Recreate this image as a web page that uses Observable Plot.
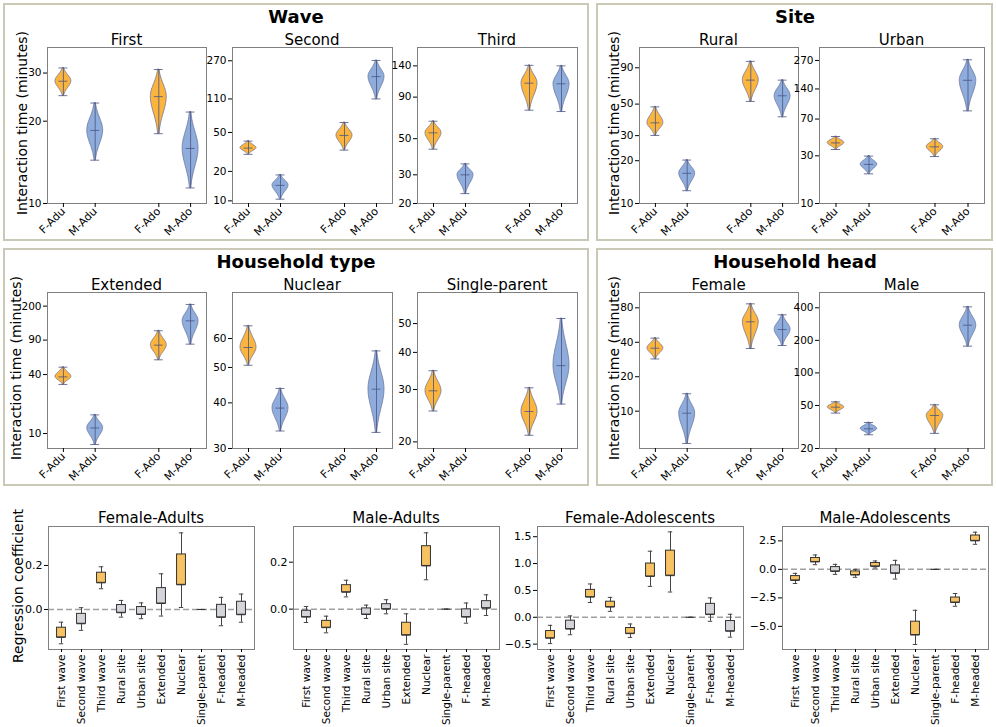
<!DOCTYPE html>
<html><head><meta charset="utf-8">
<script src="https://cdn.jsdelivr.net/npm/d3@7"></script>
<script src="https://cdn.jsdelivr.net/npm/@observablehq/plot@0.6"></script>
<style>
body{margin:0;background:#fff;font-family:"DejaVu Sans",sans-serif;}
#root{position:relative;width:996px;height:727px;overflow:hidden;background:#fff;}
.box{position:absolute;border:2px solid #c9c9b6;box-sizing:border-box;}
.t{position:absolute;transform:translate(-50%,-50%);white-space:nowrap;color:#000;line-height:1;}
.grp{font-weight:bold;font-size:18px;}
.pt{font-size:15px;}
.yl{font-size:14px;transform:translate(-50%,-50%) rotate(-90deg);}
svg.pl{position:absolute;overflow:visible;}
</style></head><body><div id="root"></div><script>
// ---------- violin data (interaction time, minutes) ----------
const groups = ["F-Adu", "M-Adu", "F-Ado", "M-Ado"];
const groupPos = [1, 2, 4, 5];
const groupFemale = [true, false, true, false];
const violinPanels = ["First", "Second", "Third", "Rural", "Urban", "Extended", "Nuclear", "Single-parent", "Female", "Male"];
const violinMin = [
  [24.8, 14.4, 18.0, 11.4], [29.9, 10.4, 33.0, 110], [43.1, 23.0, 74.8, 73.4],
  [30.1, 12.3, 52.2, 40.7], [34.7, 19.8, 29.5, 84.5],
  [31.7, 7.72, 56.6, 81.8], [50.7, 33.5, null, 33.2], [25.4, null, 21.05, 26.8],
  [28.6, 5.22, 35.3, 37.5], [42.5, 26.8, 27.6, 176.7]
];
const violinMedian = [
  [28.0, 18.5, 24.6, 15.9], [34.6, 14.4, 46.6, 186], [54.3, 30.0, 109.6, 108.6],
  [36.9, 16.3, 73.7, 57.2], [40.4, 24.6, 36.9, 171],
  [37.9, 11.4, 79.9, 141.6], [56.7, 38.7, null, 43.6], [29.7, null, 25.3, 36.1],
  [35.5, 9.6, 60.4, 51.7], [48.2, 30.4, 40.4, 276]
];
const violinMax = [
  [31.3, 23.3, 30.9, 21.6], [40.8, 18.4, 63.2, 272], [64.0, 35.0, 141, 140],
  [47.8, 20.2, 99.8, 73.7], [46.8, 29.8, 44.4, 274],
  [47.6, 15.5, 112, 208], [65.0, 43.8, null, 55.5], [34.7, null, 30.4, 52.0],
  [43.5, 14.2, 86.7, 69.5], [54.0, 34.8, 50.7, 408]
];
const violinTicks = [
  [10, 20, 30], [10, 20, 50, 110, 270], [20, 30, 50, 90, 140],
  [10, 20, 30, 50, 90], [10, 30, 70, 140, 270],
  [10, 40, 90, 200], [30, 40, 50, 60], [20, 30, 40, 50],
  [10, 20, 40, 80], [20, 50, 100, 200, 400]
];
const violinYDomain = [
  [10, 37.2], [9.4, 369], [20, 181.5], [10, 125], [10, 364],
  [7.03, 275.6], [30, 80.2], [19, 63.6], [4.72, 108.9], [20, 554]
];

// ---------- regression coefficient data ----------
const predictors = ["First wave", "Second wave", "Third wave", "Rural site", "Urban site", "Extended", "Nuclear", "Single-parent", "F-headed", "M-headed"];
const boxPanels = ["Female-Adults", "Male-Adults", "Female-Adolescents", "Male-Adolescents"];
const whiskerLow = [
  [-0.156, -0.095, 0.094, -0.035, -0.042, -0.030, 0.009, 0, -0.074, -0.058],
  [-0.057, -0.101, 0.052, -0.040, -0.020, -0.150, 0.125, 0, -0.060, -0.027],
  [-0.49, -0.325, 0.275, 0.11, -0.375, 0.575, 0.47, 0, -0.075, -0.37],
  [-1.24, 0.41, -0.44, -0.7, 0.12, -0.85, -6.59, 0, -3.24, 2.2]
];
const boxLow = [
  [-0.127, -0.065, 0.121, -0.015, -0.023, 0.027, 0.112, 0, -0.036, -0.024],
  [-0.034, -0.079, 0.072, -0.023, 0.000, -0.111, 0.184, 0, -0.034, 0.004],
  [-0.39, -0.22, 0.375, 0.19, -0.305, 0.76, 0.775, 0, 0.05, -0.26],
  [-0.97, 0.65, -0.18, -0.5, 0.26, -0.35, -5.76, 0, -2.91, 2.5]
];
const boxHigh = [
  [-0.083, -0.020, 0.167, 0.020, 0.011, 0.097, 0.250, 0, 0.021, 0.035],
  [-0.007, -0.050, 0.102, 0.003, 0.021, -0.058, 0.268, 0, -0.001, 0.034],
  [-0.256, -0.063, 0.51, 0.29, -0.2, 1.0, 1.24, 0, 0.25, -0.07],
  [-0.59, 1.0, 0.2, -0.18, 0.56, 0.35, -4.59, 0, -2.47, 2.97]
];
const whiskerHigh = [
  [-0.058, 0.008, 0.194, 0.041, 0.030, 0.162, 0.348, 0, 0.055, 0.070],
  [0.011, -0.030, 0.123, 0.017, 0.040, -0.020, 0.325, 0, 0.026, 0.061],
  [-0.15, 0.025, 0.62, 0.37, -0.125, 1.23, 1.59, 0, 0.36, 0.056],
  [-0.35, 1.26, 0.44, 0, 0.74, 0.79, -3.59, 0, -2.12, 3.26]
];
const significant = [
  [1, 0, 1, 0, 0, 0, 1, 0, 0, 0],
  [0, 1, 1, 0, 0, 1, 1, 0, 0, 0],
  [1, 0, 1, 1, 1, 1, 1, 0, 0, 0],
  [1, 1, 0, 1, 1, 0, 1, 0, 1, 1]
];
const boxTicks = [[0, 0.2], [0, 0.2], [-0.5, 0, 0.5, 1, 1.5], [-5, -2.5, 0, 2.5]];
const boxYDomain = [[-0.182, 0.377], [-0.172, 0.352], [-0.60, 1.69], [-7.03, 3.76]];

// ---------- layout ----------
const root = document.getElementById("root");
const ORANGE = "#fbb43d", BLUE = "#8eacdc", VLINE = "#4b5583";
function addDiv(cls, text, x, y, extra) {
  const d = document.createElement("div");
  d.className = cls; d.textContent = text;
  d.style.left = x + "px"; d.style.top = y + "px";
  if (extra) Object.assign(d.style, extra);
  root.appendChild(d);
  return d;
}
function addBox(l, t, w, h) {
  const d = document.createElement("div");
  d.className = "box";
  Object.assign(d.style, {left: l + "px", top: t + "px", width: w + "px", height: h + "px"});
  root.appendChild(d);
}
addBox(3, 3, 586, 238); addBox(596, 3, 397, 238);
addBox(3, 248, 586, 238); addBox(596, 248, 397, 238);
addDiv("t grp", "Wave", 296, 17); addDiv("t grp", "Site", 795, 17);
addDiv("t grp", "Household type", 296, 262); addDiv("t grp", "Household head", 795, 262);
[[22, 123], [614, 123], [16, 368], [614, 368]].forEach(([x, y]) => addDiv("t yl", "Interaction time (minutes)", x, y));
addDiv("t yl", "Regression coefficient", 18, 586);

// frame positions [left, right, top, bottom] for violin panels
const vFrames = [
  [47, 206, 47, 203], [232, 392, 47, 203], [417, 577, 47, 203],
  [639, 798, 47, 203], [819, 984, 47, 203],
  [47, 206, 292, 448], [232, 392, 292, 448], [417, 577, 292, 448],
  [639, 798, 292, 448], [819, 984, 292, 448]
];

function violinShape(id, pos, lo, med, hi, hw) {
  // smooth density-like outline between min and max, peaked at the median (log space)
  const a = Math.log(lo), m = Math.log(med), b = Math.log(hi), n = 48, out = [];
  for (let i = 0; i <= n; i++) {
    const t = a + (b - a) * i / n;
    const s = (t < m ? m - a : b - m) / 2.2;
    const w = hw * Math.exp(-0.5 * ((t - m) / s) ** 2);
    out.push({id, y: Math.exp(t), x1: pos - w, x2: pos + w});
  }
  return out;
}

const ML = 30, MR = 2, MT = 2, MB = 40;
violinPanels.forEach((name, p) => {
  const [l, r, t, b] = vFrames[p];
  const shapes = [], stats = [];
  groups.forEach((g, k) => {
    if (violinMin[p][k] == null) return;
    const fill = groupFemale[k] ? ORANGE : BLUE;
    violinShape(g, groupPos[k], violinMin[p][k], violinMedian[p][k], violinMax[p][k], 0.25)
      .forEach(d => shapes.push({...d, fill}));
    stats.push({pos: groupPos[k], lo: violinMin[p][k], med: violinMedian[p][k], hi: violinMax[p][k]});
  });
  const caps = stats.flatMap(s => [s.lo, s.med, s.hi].map(v => ({pos: s.pos, v})));
  const yt = violinTicks[p].map(v => ({v, label: String(v)}));
  const svg = Plot.plot({
    width: (r - l) + ML + MR, height: (b - t) + MT + MB,
    marginLeft: ML, marginRight: MR, marginTop: MT, marginBottom: MB,
    style: {fontFamily: "DejaVu Sans", fontSize: "10.5px", color: "#000", background: "transparent", overflow: "visible"},
    x: {domain: [0.5, 5.5]},
    y: {type: "log", domain: violinYDomain[p]},
    marks: [
      Plot.areaX(shapes, {y: "y", x1: "x1", x2: "x2", z: "id", fill: "fill", stroke: "#6f7599", strokeWidth: 0.8, curve: "linear"}),
      Plot.ruleX(stats, {x: "pos", y1: "lo", y2: "hi", stroke: VLINE, strokeOpacity: 0.8, strokeWidth: 1}),
      Plot.ruleY(caps, {y: "v", x1: d => d.pos - 0.14, x2: d => d.pos + 0.14, stroke: VLINE, strokeOpacity: 0.8, strokeWidth: 1}),
      Plot.frame({stroke: "#808080"}),
      Plot.axisY(violinTicks[p], {tickSize: 4, tickFormat: () => "", label: null}),
      Plot.text(yt, {y: "v", text: "label", frameAnchor: "left", dx: -6, textAnchor: "end", fontSize: 10.5, fill: "#000"}),
      Plot.axisX({ticks: groupPos, tickFormat: d => groups[groupPos.indexOf(d)], tickRotate: -45, tickSize: 4, tickPadding: 2, label: null, fontSize: 11})
    ]
  });
  svg.classList.add("pl");
  svg.style.left = (l - ML) + "px"; svg.style.top = (t - MT) + "px";
  root.appendChild(svg);
  addDiv("t pt", name, (l + r) / 2, t === 47 ? 40 : 285);
});

// ---------- box panels ----------
const bFrames = [[48, 254], [293, 499], [537, 743], [782, 988]];
const BT = 526, BB = 649, BML = 36, BMB = 74;
const fmt = d3.format(".1f");
boxPanels.forEach((name, p) => {
  const [l, r] = bFrames[p];
  const rows = predictors.map((c, i) => ({
    c, wlo: whiskerLow[p][i], q1: boxLow[p][i], q3: boxHigh[p][i], whi: whiskerHigh[p][i],
    fill: significant[p][i] ? "#f7c262" : "#d4d5da"
  }));
  const bw = (r - l) / predictors.length;
  const boxInset = (bw - 9.5) / 2, capInset = (bw - 5) / 2;
  const svg = Plot.plot({
    width: (r - l) + BML + 2, height: (BB - BT) + 2 + BMB,
    marginLeft: BML, marginRight: 2, marginTop: 2, marginBottom: BMB,
    style: {fontFamily: "DejaVu Sans", fontSize: "11px", color: "#000", background: "transparent", overflow: "visible"},
    x: {type: "band", domain: predictors, padding: 0},
    y: {domain: boxYDomain[p]},
    marks: [
      Plot.ruleY([0], {stroke: "#a0a0a0", strokeWidth: 1.5, strokeDasharray: "6,3"}),
      Plot.ruleX(rows, {x: "c", y1: "wlo", y2: "whi", stroke: "#444", strokeWidth: 1}),
      Plot.tickY(rows, {x: "c", y: "wlo", stroke: "#444", insetLeft: capInset, insetRight: capInset}),
      Plot.tickY(rows, {x: "c", y: "whi", stroke: "#444", insetLeft: capInset, insetRight: capInset}),
      Plot.barY(rows, {x: "c", y1: "q1", y2: "q3", fill: "fill", stroke: "#333", strokeWidth: 1, insetLeft: boxInset, insetRight: boxInset}),
      Plot.tickY(rows, {x: "c", y: "q1", stroke: "#333", insetLeft: boxInset, insetRight: boxInset}),
      Plot.frame({stroke: "#808080"}),
      Plot.axisY({ticks: boxTicks[p], tickFormat: fmt, tickSize: 4, tickPadding: 2, label: null}),
      Plot.axisX({tickRotate: -90, tickSize: 3, tickPadding: 2, label: null, fontSize: 10.5})
    ]
  });
  svg.classList.add("pl");
  svg.style.left = (l - BML) + "px"; svg.style.top = (BT - 2) + "px";
  root.appendChild(svg);
  addDiv("t pt", name, (l + r) / 2, 518);
});
</script></body></html>
